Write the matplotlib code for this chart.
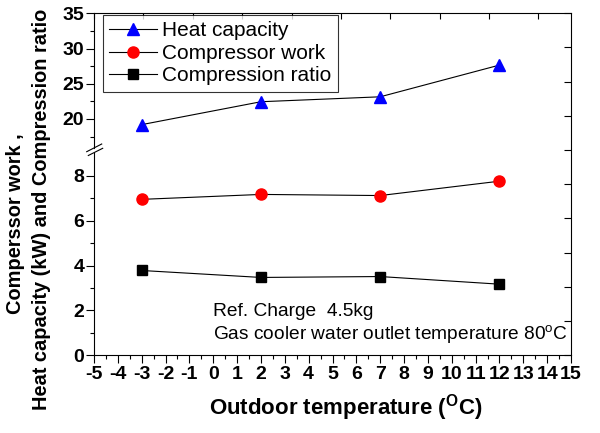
import numpy as np
import matplotlib.pyplot as plt
from matplotlib.lines import Line2D
from matplotlib.patches import Polygon

plt.rcParams['font.family'] = ['Liberation Sans', 'DejaVu Sans']
plt.rcParams['mathtext.fontset'] = 'custom'
plt.rcParams['mathtext.rm'] = 'Liberation Sans'
plt.rcParams['mathtext.bf'] = 'Liberation Sans:bold'
plt.rcParams['axes.unicode_minus'] = False

# Outdoor temperature (C)
temps = [-3, 2, 7, 12]
heat_capacity = [19.2, 22.45, 23.15, 27.65]
compressor_work = [6.95, 7.17, 7.12, 7.76]
compression_ratio = [3.78, 3.47, 3.51, 3.17]

W, H = 600, 433
fig = plt.figure(figsize=(6, 4.33), dpi=100)

# axes frame in pixels
x0, x1 = 94, 571
y_top, y_bot, y_brk = 13.3, 355.3, 150

def fx(px):
    return px / W

def fy(py):
    return 1 - py / H

left, width = fx(x0), fx(x1) - fx(x0)
ax_fr = fig.add_axes([left, fy(y_bot), width, fy(y_top) - fy(y_bot)])
ax_lo = fig.add_axes([left, fy(y_bot), width, fy(y_brk) - fy(y_bot)])
ax_hi = fig.add_axes([left, fy(y_brk), width, fy(y_top) - fy(y_brk)])

lw = 0.8
tick_fs = 14

# lower part: compressor work and compression ratio
ax_lo.plot(temps, compressor_work, color='black', lw=0.8, marker='o', ms=8,
           mfc='#ff0000', mec='#ff0000', zorder=3, clip_on=False)
ax_lo.plot(temps, compression_ratio, color='black', lw=0.8, marker='s', ms=7,
           mfc='black', mec='black', zorder=3, clip_on=False)
ax_lo.set_xlim(-5, 15)
ax_lo.set_ylim(0, 9.15)
ax_lo.set_xticks(range(-5, 16))
ax_lo.set_xticks(np.arange(-5, 15.01, 0.5), minor=True)
ax_lo.set_yticks([0, 2, 4, 6, 8])
ax_lo.set_yticks([1, 3, 5, 7], minor=True)
ax_lo.spines['top'].set_visible(False)
ax_lo.spines['right'].set_visible(False)
ax_lo.tick_params(which='major', direction='out', length=5.5, width=lw, pad=1.5)
ax_lo.tick_params(which='minor', direction='out', length=3, width=lw)
ax_lo.tick_params(axis='x', which='major', pad=2.5)
for lab in ax_lo.get_xticklabels() + ax_lo.get_yticklabels():
    lab.set_fontsize(tick_fs)
    lab.set_fontweight('bold')
ax_lo.patch.set_visible(False)

# upper part: heat capacity
ax_hi.plot(temps, heat_capacity, color='black', lw=0.8, marker='^', ms=9,
           mfc='#0000ff', mec='#0000ff', zorder=3, clip_on=False)
ax_hi.set_xlim(-5, 15)
ax_hi.set_ylim(15.6, 35)
ax_hi.set_yticks([20, 25, 30, 35])
ax_hi.set_yticks([17.5, 22.5, 27.5, 32.5], minor=True)
for s in ['top', 'right', 'bottom']:
    ax_hi.spines[s].set_visible(False)
ax_hi.set_xticks([])
ax_hi.tick_params(which='major', direction='out', length=5.5, width=lw, pad=1.5)
ax_hi.tick_params(which='minor', direction='out', length=3, width=lw)
for lab in ax_hi.get_yticklabels():
    lab.set_fontsize(tick_fs)
    lab.set_fontweight('bold')
ax_hi.patch.set_visible(False)

for ax in (ax_lo, ax_hi):
    for s in ax.spines.values():
        s.set_linewidth(lw)

# outer frame: top and right spines with their own unlabelled ticks
ax_fr.set_xlim(0, 9.66)
ax_fr.set_ylim(0, 10)
ax_fr.spines['left'].set_visible(False)
ax_fr.spines['bottom'].set_visible(False)
ax_fr.spines['top'].set_linewidth(lw)
ax_fr.spines['right'].set_linewidth(lw)
ax_fr.xaxis.tick_top()
ax_fr.yaxis.tick_right()
ax_fr.set_xticks(range(0, 10))
ax_fr.set_yticks(range(0, 11))
ax_fr.tick_params(direction='in', length=4, width=lw, labeltop=False, labelright=False)
ax_fr.tick_params(axis='y', length=5)

# axis break mark on the left spine
gap = Polygon([[fx(88), fy(152.5)], [fx(102), fy(145)], [fx(103), fy(149.5)], [fx(89), fy(155)]],
              closed=True, transform=fig.transFigure, facecolor='white', edgecolor='none', zorder=5)
fig.add_artist(gap)
fig.add_artist(Line2D([fx(86.7), fx(101.7)], [fy(151.7), fy(144)], transform=fig.transFigure,
                      color='black', lw=lw, zorder=6))
fig.add_artist(Line2D([fx(88.3), fx(102.7)], [fy(155.5), fy(148.3)], transform=fig.transFigure,
                      color='black', lw=lw, zorder=6))

# legend
handles = [
    Line2D([], [], color='black', lw=0.8, marker='^', ms=9, mfc='#0000ff', mec='#0000ff'),
    Line2D([], [], color='black', lw=0.8, marker='o', ms=8, mfc='#ff0000', mec='#ff0000'),
    Line2D([], [], color='black', lw=0.8, marker='s', ms=7, mfc='black', mec='black'),
]
labels = ['Heat capacity', 'Compressor work', 'Compression ratio']
leg = fig.legend(handles, labels, loc='upper left', bbox_to_anchor=(fx(102.7), fy(15)),
                 fontsize=15, frameon=True, fancybox=False, edgecolor='black',
                 handlelength=2.3, handletextpad=0.25, labelspacing=0.17,
                 borderpad=0.3, borderaxespad=0)
leg.get_frame().set_linewidth(lw)

# notes
fig.text(fx(212.7), fy(316.5), 'Ref. Charge  4.5kg', fontsize=13.8, va='baseline')
fig.text(fx(212.7), fy(340.5), 'Gas cooler water outlet temperature 80$^\\mathregular{o}$C',
         fontsize=13.8, va='baseline')

# axis titles
fig.text(fx(346), fy(408), 'Outdoor temperature ($^{\\mathbf{O}}$C)', fontsize=16,
         fontweight='bold', ha='center', va='center')
fig.text(fx(16), fy(224), 'Comperssor work ,', fontsize=14.4, fontweight='bold',
         rotation=90, ha='center', va='center')
fig.text(fx(42), fy(209), 'Heat capacity (kW) and Compression ratio', fontsize=14.4,
         fontweight='bold', rotation=90, ha='center', va='center')

fig.savefig('out.png', dpi=100)
